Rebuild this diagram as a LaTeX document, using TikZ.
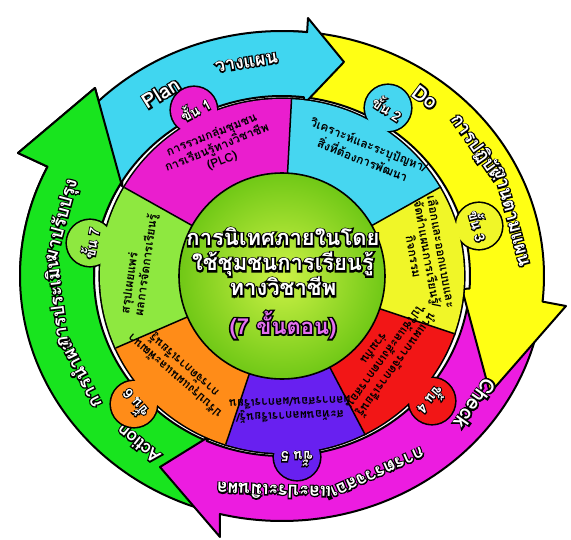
\documentclass[tikz,border=0pt]{standalone}
\usepackage{fontspec}
\newfontfamily\thai[Script=Thai]{Loma}
\newfontfamily\thaiO[Script=Thai,FakeBold=14]{Loma}
\newcommand\ot[1]{\leavevmode\rlap{\color{black}\thaiO\bfseries #1}#1}
\definecolor{cPlan}{RGB}{64,214,240}
\definecolor{cDo}{RGB}{255,255,20}
\definecolor{cCheck}{RGB}{236,28,224}
\definecolor{cAct}{RGB}{24,228,30}
\definecolor{sOne}{RGB}{234,30,206}
\definecolor{sTwo}{RGB}{70,214,240}
\definecolor{sThree}{RGB}{240,246,40}
\definecolor{sFour}{RGB}{242,22,22}
\definecolor{sFive}{RGB}{104,32,240}
\definecolor{sSix}{RGB}{255,140,24}
\definecolor{sSeven}{RGB}{142,232,64}
\definecolor{cViolet}{RGB}{228,112,240}
\definecolor{cCore}{RGB}{205,242,70}
\definecolor{cCoreOut}{RGB}{112,200,22}
\tikzset{
  arw/.style={draw=black, line width=2pt, line join=round},
  sectxt/.style={font=\thai\bfseries\fontsize{12}{14}\selectfont, align=center, text=black, inner sep=0pt},
  arrtxt/.style={font=\thai\bfseries\fontsize{18}{20}\selectfont, text=white, inner sep=0pt},
  latintxt/.style={font=\thai\bfseries\fontsize{20}{22}\selectfont, text=white, inner sep=0pt},
  steptxt/.style={font=\thai\bfseries\fontsize{14}{16}\selectfont, text=white, inner sep=0pt},
  titletxt/.style={font=\thai\bfseries\fontsize{22}{25}\selectfont, align=center, text=white, inner sep=0pt},
}
\begin{document}
\begin{tikzpicture}[x=1pt,y=1pt]
\useasboundingbox[fill=white] (-282,-263) rectangle (289,276);
% ---- outer arrows: green, magenta, yellow, cyan
\draw[arw, fill=cAct] (-108:262 and 245) arc[start angle=-108, end angle=-206.5, x radius=262, y radius=245]
  -- (-264,123) -- (-187,188) -- (-160,90) -- (-211.7:188 and 180)
  arc[start angle=-211.7, end angle=-108, x radius=188, y radius=180] -- cycle;
\draw[arw, fill=cCheck] (-8:262 and 245) arc[start angle=-8, end angle=-103.7, x radius=262, y radius=245]
  -- (-62,-261) -- (-122,-191) -- (-72,-160) -- (-113.6:188 and 180)
  arc[start angle=-113.6, end angle=-8, x radius=188, y radius=180] -- cycle;
\draw[arw, fill=cDo] (88:262 and 245) arc[start angle=88, end angle=-6, x radius=262, y radius=245]
  -- (284,-30) -- (208,-117) -- (180,-13) -- (-4:188 and 180)
  arc[start angle=-4, end angle=88, x radius=188, y radius=180] -- cycle;
\draw[arw, fill=cPlan] (150:262 and 245) arc[start angle=150, end angle=84.5, x radius=262, y radius=245]
  -- (26,258) -- (62,214) -- (22,172) -- (83.3:188 and 180)
  arc[start angle=83.3, end angle=150, x radius=188, y radius=180] -- cycle;
\begin{scope}
\clip (-300,0) rectangle (0,300);
\draw[arw, fill=cAct] (-108:262 and 245) arc[start angle=-108, end angle=-206.5, x radius=262, y radius=245]
  -- (-264,123) -- (-187,188) -- (-160,90) -- (-211.7:188 and 180)
  arc[start angle=-211.7, end angle=-108, x radius=188, y radius=180] -- cycle;
\end{scope}
% ---- arrow labels
\node[latintxt, rotate=32] (labp1) at (122:228 and 216) {\ot{Plan}};
\node[latintxt, rotate=-125] (labc1) at (-35:236 and 222) {\ot{Check}};
\node[latintxt, rotate=-37] (labd1) at (53:238 and 224) {\ot{Do}};
\foreach \n/\a/\t in {p2/99/วางแผน, a1/-129/Action,
  c2/-66/การตรวจสอบ, c3/-92/และประเมินผล,
  a2/-153/การนำผล, a3/-173/การประเมิน, a4/-195/มาปรับปรุง}
  \node[arrtxt, rotate={\a-90}] (lab\n) at (\a:228 and 216) {\ot{\t}};
\foreach \n/\a/\t in {d2/35/การปฏิบัติ, d3/15/งานตามแผน}
  \node[arrtxt, rotate={\a-90}] (lab\n) at (\a:238 and 224) {\ot{\t}};
% ---- sectors
\foreach \a/\b/\bx/\by in {150/87/-88/166, 87/30/106/168, 30/-19/197/50, -19/-63/150/-125,
  -63/-108/15/-181, -108/-156/-148/-128, -156/-210/-192/33}{
  \draw[black, line width=3.2pt] (0,0) -- (\a:182 and 177) arc[start angle=\a, end angle=\b, x radius=182, y radius=177] -- cycle;
  \draw[black, line width=3.2pt] (\bx,\by) circle (23);
}
\foreach \a/\b/\c/\bx/\by in {150/87/sOne/-88/166, 87/30/sTwo/106/168, 30/-19/sThree/197/50, -19/-63/sFour/150/-125,
  -63/-108/sFive/15/-181, -108/-156/sSix/-148/-128, -156/-210/sSeven/-192/33}{
  \fill[\c] (0,0) -- (\a:182 and 177) arc[start angle=\a, end angle=\b, x radius=182, y radius=177] -- cycle;
  \fill[\c] (\bx,\by) circle (23);
}
\foreach \a in {150,87,30,-19,-63,-108,-156}
  \draw[black, line width=1.5pt] (0,0) -- (\a:182 and 177);
% ---- core
\shade[inner color=cCore, outer color=cCoreOut] (0,0) circle (103);
\draw[black, line width=1.6pt] (0,0) circle (103);
% ---- step tags
\foreach \n/\x/\y/\r in {1/-87/167/28, 2/106/168/-33, 3/197/50/-75, 4/150/-125/-130,
  5/15/-183/180, 6/-148/-128/131, 7/-192/33/80}
  \node[steptxt, rotate=\r] (tag\n) at (\x,\y) {\ot{ขั้น \n}};
% ---- step texts
\node[sectxt, rotate=22] (st1) at (-65,128) {การรวมกลุ่มชุมชน\\การเรียนรู้ทางวิชาชีพ\\(PLC)};
\node[sectxt, rotate=-22] (st2) at (84,124) {วิเคราะห์และระบุปัญหา/\\สิ่งที่ต้องการพัฒนา};
\node[sectxt, rotate=-80] (st3) at (146,22) {เลือกและออกแบบและ\\จัดทำแผนการเรียนรู้/\\กิจกรรม};
\node[sectxt, rotate=-126] (st4) at (104,-81) {นำแผนการจัดการเรียนรู้\\ไปใช้และสังเกตการสอน\\ร่วมกัน};
\node[sectxt, rotate=-178] (st5) at (8,-134) {สะท้อนผลการเรียนรู้/\\ผลการสอน/ผลการเรียน};
\node[sectxt, rotate=139] (st6) at (-102,-94) {ปรับปรุงแผนและพัฒนา\\การจัดการเรียนรู้};
\node[sectxt, rotate=82, align=left] (st7) at (-142,12) {สรุปเผยแพร่\\ผลการจัดการเรียนรู้};
% ---- title
\node[titletxt] (title) at (1,14) {\ot{การนิเทศภายในโดย}\\\ot{ใช้ชุมชนการเรียนรู้}\\\ot{ทางวิชาชีพ}};
\node[titletxt, text=cViolet] (count) at (1,-49) {\ot{(7 ขั้นตอน)}};
\end{tikzpicture}
\end{document}
